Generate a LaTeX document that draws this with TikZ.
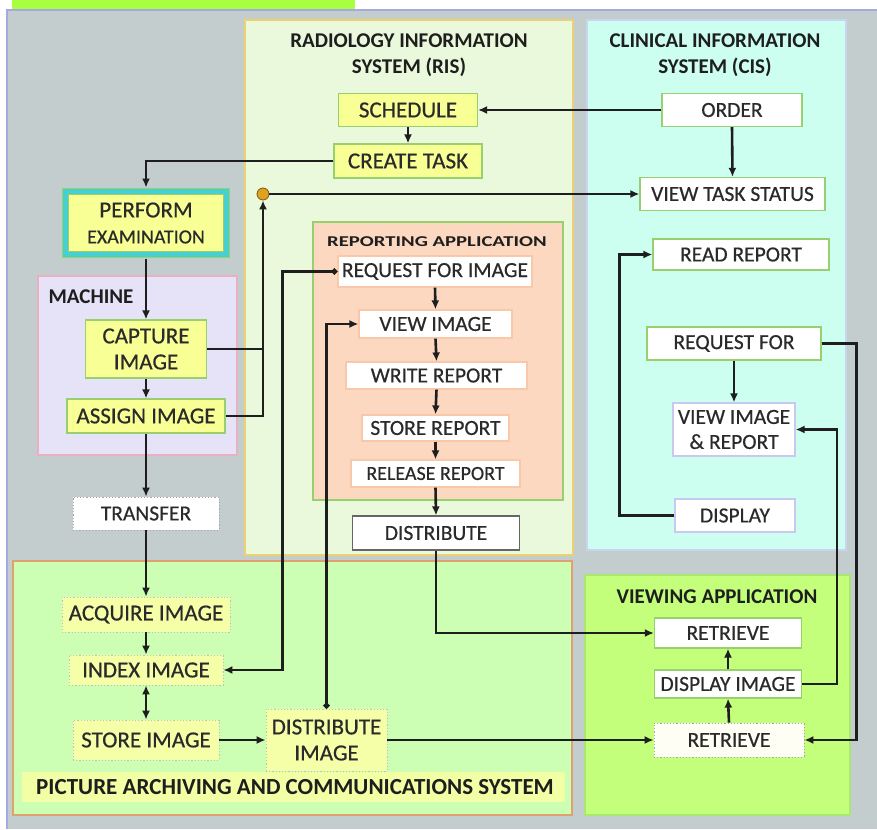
\documentclass[tikz,border=0pt]{standalone}
\usepackage{fontspec}
\setmainfont{Carlito}
\newfontfamily\heavyish{Carlito}[FakeBold=0.5]
\usetikzlibrary{arrows.meta,shapes.geometric,calc}

\definecolor{bggray}{HTML}{C3CDCD}
\definecolor{bgedge}{HTML}{A4AAE0}
\definecolor{topbar}{HTML}{A8FF40}
\definecolor{risfill}{HTML}{EAF9DC}
\definecolor{risedge}{HTML}{EDD070}
\definecolor{cisfill}{HTML}{CCFFF0}
\definecolor{cisedge}{HTML}{C8D4F0}
\definecolor{machfill}{HTML}{E6E2F8}
\definecolor{machedge}{HTML}{E8B0C0}
\definecolor{repfill}{HTML}{FCD8C0}
\definecolor{repedge}{HTML}{98D070}
\definecolor{pacsfill}{HTML}{CCFFB4}
\definecolor{pacsedge}{HTML}{E0A070}
\definecolor{pacsband}{HTML}{F2FFA4}
\definecolor{viewfill}{HTML}{C4FF7C}
\definecolor{viewedge}{HTML}{A8E870}
\definecolor{ylw}{HTML}{F8FF94}
\definecolor{ylwlight}{HTML}{F4FFA8}
\definecolor{grn}{HTML}{98D070}
\definecolor{cyanedge}{HTML}{48D0D0}
\definecolor{lav}{HTML}{C8C8F0}
\definecolor{peach}{HTML}{F8C8A8}
\definecolor{txt}{HTML}{2A2A2A}
\definecolor{ink}{HTML}{1E1E1E}
\definecolor{orng}{HTML}{E0A020}

\begin{document}
\begin{tikzpicture}[x=1pt,y=-1pt,
  nodebase/.style={rectangle, inner sep=0pt, anchor=center, text=txt, line width=1.2pt, align=center},
  ybox/.style={nodebase, fill=ylw, draw=grn, font=\heavyish\fontsize{23}{26}\selectfont},
  pacsbox/.style={nodebase, fill=ylwlight, draw=black!25, dotted, line width=0.8pt, font=\heavyish\fontsize{23}{26}\selectfont},
  wbox/.style={nodebase, fill=white, draw=grn, font=\heavyish\fontsize{21.5}{25}\selectfont},
  lbox/.style={nodebase, fill=white, draw=lav, font=\heavyish\fontsize{21.5}{25}\selectfont},
  rbox/.style={nodebase, fill=white, draw=peach, font=\heavyish\fontsize{21.5}{25}\selectfont},
  dbox/.style={nodebase, fill=white, draw=black!35, dotted, line width=0.8pt, font=\heavyish\fontsize{21.5}{25}\selectfont},
  ttl/.style={inner sep=0pt, anchor=center, text=ink, align=center, font=\bfseries\fontsize{21}{26}\selectfont},
  ln/.style={draw=ink, line width=2.6pt},
  arr/.style={ln, -{Latex[length=9pt,width=8pt]}},
  dblarr/.style={ln, {Latex[length=9pt,width=8pt]}-{Latex[length=9pt,width=8pt]}},
  dotarr/.style={ln, {Circle[length=6pt]}-{Latex[length=9pt,width=8pt]}},
]
\useasboundingbox (0,0) rectangle (877,829);

% background panel and header bar
\fill[white] (0,0) rectangle (877,829);
\fill[topbar] (12,0) rectangle (355,9);
\fill[bggray] (7,10) rectangle (877,829);
\draw[bgedge, line width=1.5pt] (7,829) -- (7,10) -- (877,10);

% system areas
\draw[fill=risfill, draw=risedge, line width=1.5pt] (245,20) rectangle (573,555);
\draw[fill=cisfill, draw=cisedge, line width=1.5pt] (587,20) rectangle (846,550);
\draw[fill=machfill, draw=machedge, line width=1.2pt] (38,276) rectangle (237,455);
\draw[fill=repfill, draw=repedge, line width=1.2pt] (313,222) rectangle (563,500);
\draw[fill=pacsfill, draw=pacsedge, line width=1.5pt] (13,561) rectangle (572,815);
\fill[pacsband] (22,772) rectangle (565,802);
\draw[fill=viewfill, draw=viewedge, line width=1.2pt] (585,575) rectangle (850,815);

% titles
\node[ttl] (ristitle) at (409,55) {RADIOLOGY INFORMATION\\SYSTEM (RIS)};
\node[ttl] (cistitle) at (715,55) {CLINICAL INFORMATION\\SYSTEM (CIS)};
\node[ttl] (machtitle) at (91,297) {MACHINE};
\node[ttl, font=\bfseries\fontsize{15}{17}\selectfont] (reptitle) at (437,242) {\scalebox{1.38}[1]{REPORTING APPLICATION}};
\node[ttl] (viewtitle) at (717,597) {VIEWING APPLICATION};
\node[ttl, font=\bfseries\fontsize{23}{26}\selectfont] (pacstitle) at (295,787) {PICTURE ARCHIVING AND COMMUNICATIONS SYSTEM};

% RIS
\node[ybox, minimum width=139pt, minimum height=33pt] (schedule) at (408,110) {SCHEDULE};
\node[ybox, minimum width=148pt, minimum height=34pt] (createtask) at (408,161) {CREATE TASK};
\node[circle, fill=orng, draw=orng!55!black, line width=0.8pt, inner sep=0pt, minimum size=12pt] (junc) at (263,194) {};

% examination and machine
\node[ybox, draw=grn, line width=1pt, double=cyanedge, double distance=5pt,
      minimum width=161pt, minimum height=63pt] (perform) at (146,223) {PERFORM\\{\fontsize{20}{24}\selectfont EXAMINATION}};
\node[ybox, minimum width=121pt, minimum height=58pt] (capture) at (146,349) {CAPTURE\\IMAGE};
\node[ybox, minimum width=158pt, minimum height=34pt] (assign) at (146,416) {ASSIGN IMAGE};
\node[dbox, minimum width=146pt, minimum height=33pt] (transfer) at (146,513.5) {TRANSFER};

% PACS
\node[pacsbox, minimum width=168pt, minimum height=35pt] (acquire) at (146,614.5) {ACQUIRE IMAGE};
\node[pacsbox, minimum width=154pt, minimum height=30pt] (index) at (146,670) {INDEX IMAGE};
\node[pacsbox, minimum width=146pt, minimum height=40pt] (storeimg) at (146,740) {STORE IMAGE};
\node[pacsbox, minimum width=121pt, minimum height=62pt] (distimg) at (326.5,740) {DISTRIBUTE\\IMAGE};

% reporting application
\node[rbox, minimum width=194pt, minimum height=31pt] (reqimg) at (435,271.5) {REQUEST FOR IMAGE};
\node[rbox, minimum width=153pt, minimum height=28pt] (viewimg) at (435.5,324) {VIEW IMAGE};
\node[rbox, minimum width=181pt, minimum height=27pt] (writerep) at (436.5,375.5) {WRITE REPORT};
\node[rbox, minimum width=147pt, minimum height=26pt] (storerep) at (435.5,428) {STORE REPORT};
\node[rbox, minimum width=169pt, minimum height=27pt, font=\heavyish\fontsize{20}{23}\selectfont] (relrep) at (435.5,473.5) {RELEASE REPORT};
\node[wbox, draw=black!60, minimum width=167pt, minimum height=34pt] (distrib) at (436,533) {DISTRIBUTE};

% CIS
\node[wbox, minimum width=140pt, minimum height=33pt] (order) at (732,110) {ORDER};
\node[wbox, minimum width=185pt, minimum height=33pt] (vts) at (732.5,194) {VIEW TASK STATUS};
\node[wbox, minimum width=176pt, minimum height=31pt] (readrep) at (741,254.5) {READ REPORT};
\node[wbox, minimum width=174pt, minimum height=33pt] (reqfor) at (734,343.5) {REQUEST FOR};
\node[lbox, minimum width=122pt, minimum height=53pt] (vir) at (734,429.5) {VIEW IMAGE\\\& REPORT};
\node[lbox, minimum width=120pt, minimum height=33pt] (display) at (735,515.5) {DISPLAY};

% viewing application
\node[wbox, minimum width=147pt, minimum height=30pt] (ret1) at (728,633) {RETRIEVE};
\node[wbox, minimum width=147pt, minimum height=28pt] (dispimg) at (728,684) {DISPLAY IMAGE};
\node[dbox, fill=white!96!yellow, minimum width=150pt, minimum height=34pt] (ret2) at (729,740) {RETRIEVE};

% connectors: ordering and scheduling
\draw[arr] (order.west) -- (schedule.east);
\draw[arr] (order.south) -- (vts.north);
\draw[arr] (schedule.south) -- (createtask.north);
\draw[arr, shorten >=3.5pt] (createtask.west) -| (perform.north);

% connectors: machine
\draw[arr, shorten <=3.5pt] (perform.south) -- (capture.north);
\draw[arr] (capture.south) -- (assign.north);
\draw[ln] (capture.east) -- (capture.east -| junc.south);
\draw[arr] (assign.east) -| (junc.south);
\draw[arr] (junc.east) -- (vts.west);
\draw[arr] (assign.south) -- (transfer.north);
\draw[arr] (transfer.south) -- (acquire.north);

% connectors: PACS
\draw[arr] (acquire.south) -- (index.north);
\draw[dblarr] (index.south) -- (storeimg.north);
\draw[arr] (storeimg.east) -- (distimg.west);
\draw[dotarr] (reqimg.west) -- ++(-55,0) |- (index.east);
\draw[dotarr] (distimg.north) |- (viewimg.west);
\draw[arr] (distimg.east) -- (ret2.west);

% connectors: reporting chain
\draw[arr] (reqimg.south) -- (viewimg.north);
\draw[arr] (viewimg.south) -- (writerep.north);
\draw[arr] (writerep.south) -- (storerep.north);
\draw[arr] (storerep.south) -- (relrep.north);
\draw[arr] (relrep.south) -- (distrib.north);
\draw[arr] (distrib.south) |- (ret1.west);

% connectors: viewing and clinical display
\draw[arr] (dispimg.north) -- (ret1.south);
\draw[arr] (ret2.north) -- (dispimg.south);
\draw[arr] (dispimg.east) -- ++(35,0) |- (vir.east);
\draw[arr] (reqfor.east) -- ++(35,0) |- (ret2.east);
\draw[arr] (reqfor.south) -- (vir.north);
\draw[arr] (display.west) -- ++(-55,0) |- (readrep.west);
\end{tikzpicture}
\end{document}
